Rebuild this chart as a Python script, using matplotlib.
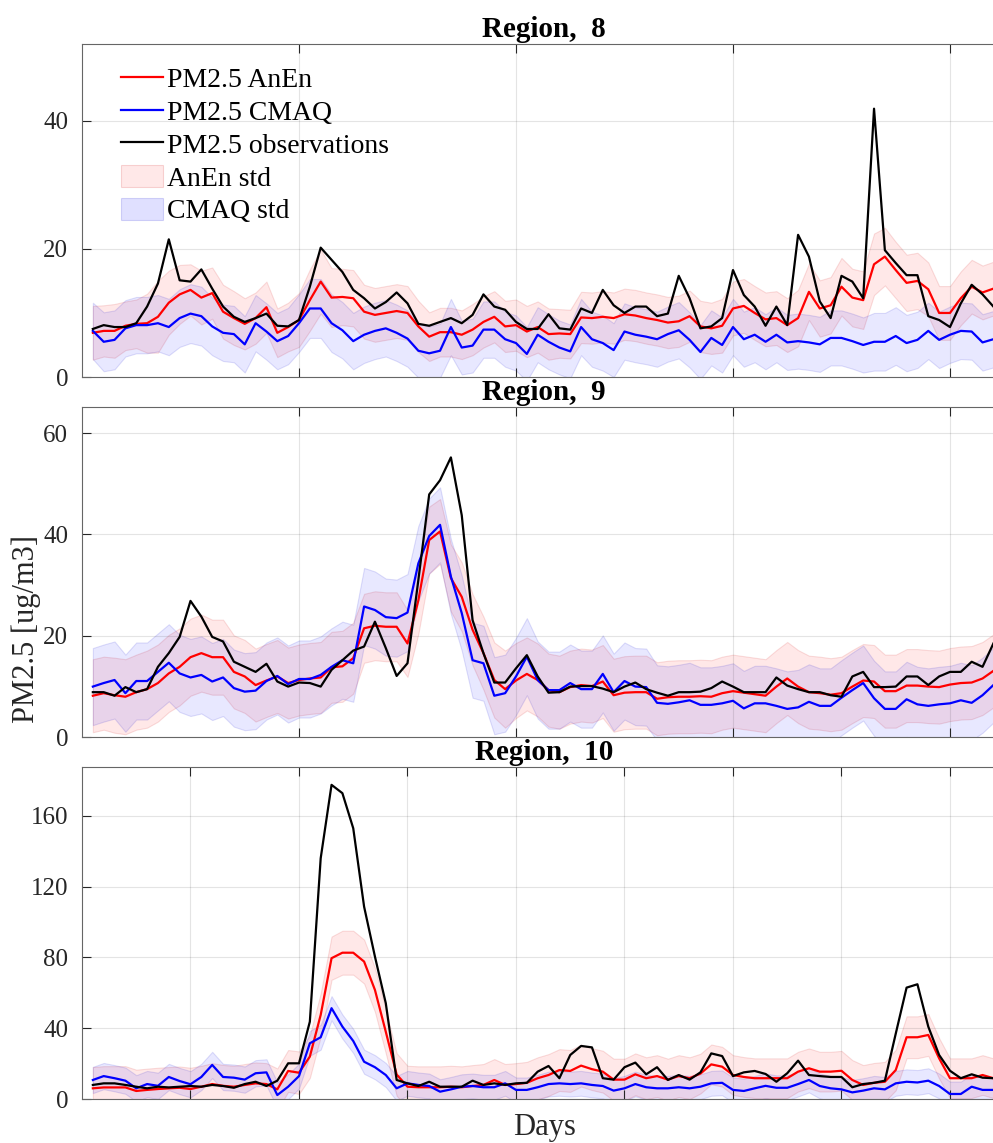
import numpy as np
import matplotlib
matplotlib.use('Agg')
import matplotlib.pyplot as plt
from matplotlib.patches import Patch
from matplotlib.lines import Line2D

plt.rcParams['font.family'] = ['Liberation Serif', 'DejaVu Serif']

# ---- Region 8 ----
obs8 = [7.5, 8.1, 7.8, 7.8, 8.4, 11.0, 14.6, 21.5, 15.1, 14.9,
        16.8, 13.8, 11.0, 9.4, 8.6, 9.2, 9.9, 8.0, 7.9, 8.9,
        14.1, 20.2, 18.3, 16.4, 13.6, 12.3, 10.7, 11.7, 13.2, 11.5,
        8.3, 8.0, 8.6, 9.2, 8.4, 9.7, 12.9, 11.0, 10.5, 8.6,
        7.5, 7.5, 9.8, 7.6, 7.4, 10.7, 10.0, 13.6, 11.2, 10.0,
        11.0, 11.0, 9.5, 9.9, 15.8, 12.3, 7.6, 7.9, 9.2, 16.7,
        12.8, 11.0, 8.0, 11.0, 8.1, 22.2, 18.8, 11.8, 9.2, 15.8,
        14.9, 12.3, 41.9, 19.8, 17.8, 15.9, 15.9, 9.5, 8.9, 7.8,
        11.5, 14.4, 12.9, 11.0]
anen8 = [6.9, 7.2, 7.2, 8.0, 8.3, 8.4, 9.4, 11.6, 12.9, 13.6,
         12.4, 13.1, 10.2, 9.2, 8.3, 9.2, 10.9, 6.9, 7.8, 8.9,
         12.0, 14.9, 12.4, 12.5, 12.3, 10.2, 9.7, 10.0, 10.3, 10.0,
         7.9, 6.3, 7.0, 7.0, 6.6, 7.4, 8.6, 9.4, 7.9, 8.1,
         7.1, 7.8, 6.7, 6.8, 6.7, 9.3, 9.2, 9.4, 9.2, 9.8,
         9.6, 9.2, 8.9, 8.5, 8.7, 9.5, 7.9, 7.6, 8.0, 10.7,
         11.1, 10.0, 9.0, 9.2, 8.1, 9.2, 13.3, 10.7, 11.2, 14.1,
         12.4, 12.0, 17.6, 18.8, 16.7, 14.7, 15.0, 13.7, 10.0, 10.0,
         12.3, 14.1, 13.2, 13.8]
cmaq8 = [7.2, 5.5, 5.8, 7.6, 8.1, 8.1, 8.4, 7.8, 9.2, 9.9,
         9.5, 7.9, 6.9, 6.7, 5.1, 8.4, 7.1, 5.6, 6.4, 8.4,
         10.7, 10.7, 8.4, 7.3, 5.6, 6.6, 7.2, 7.6, 6.9, 6.0,
         4.1, 3.7, 4.1, 7.8, 4.6, 4.9, 7.4, 7.4, 5.9, 5.3,
         3.6, 6.6, 5.5, 4.6, 4.0, 7.8, 5.9, 5.3, 4.2, 7.1,
         6.6, 6.3, 5.9, 6.7, 7.3, 5.8, 3.9, 6.1, 5.0, 7.8,
         5.9, 6.6, 5.5, 6.6, 5.4, 5.6, 5.4, 5.1, 6.1, 6.1,
         5.6, 5.0, 5.5, 5.5, 6.4, 5.3, 5.8, 7.2, 5.8, 6.6,
         7.2, 7.1, 5.4, 5.9]
anen8_std = [4.2, 4.0, 4.2, 3.8, 3.8, 4.6, 5.6, 5.0, 4.6, 4.0,
             4.2, 4.0, 4.2, 4.2, 4.0, 4.0, 4.0, 3.8, 3.8, 4.2,
             4.8, 5.0, 4.6, 4.4, 4.4, 4.2, 4.2, 4.2, 4.2, 4.2,
             4.0, 3.8, 3.8, 3.8, 3.8, 4.0, 4.0, 4.0, 4.0, 4.0,
             4.0, 4.0, 4.0, 3.8, 3.8, 4.0, 4.0, 4.0, 4.0, 4.0,
             4.0, 4.0, 4.0, 4.0, 4.0, 4.0, 4.0, 4.0, 4.2, 4.2,
             4.2, 4.2, 4.2, 4.2, 4.2, 4.4, 4.4, 4.4, 4.4, 4.5,
             4.5, 4.5, 4.8, 4.5, 4.4, 4.4, 4.4, 4.2, 4.2, 4.2,
             4.2, 4.2, 4.2, 4.2]
cmaq8_std = [4.4, 4.6, 4.6, 4.4, 4.4, 4.4, 4.4, 4.4, 4.5, 4.6,
             4.6, 4.5, 4.4, 4.4, 4.4, 4.4, 4.4, 4.4, 4.4, 4.5,
             4.6, 4.6, 4.5, 4.4, 4.4, 4.4, 4.4, 4.4, 4.4, 4.4,
             4.2, 4.2, 4.2, 4.4, 4.2, 4.2, 4.4, 4.4, 4.3, 4.3,
             4.2, 4.3, 4.3, 4.2, 4.2, 4.4, 4.3, 4.3, 4.2, 4.4,
             4.3, 4.3, 4.3, 4.3, 4.4, 4.3, 4.2, 4.3, 4.3, 4.4,
             4.3, 4.3, 4.3, 4.3, 4.3, 4.3, 4.3, 4.3, 4.3, 4.3,
             4.3, 4.3, 4.5, 4.5, 4.5, 4.4, 4.4, 4.4, 4.4, 4.4,
             4.4, 4.4, 4.4, 4.4]

# ---- Region 9 ----
obs9 = [8.9, 8.9, 8.2, 9.9, 8.9, 9.5, 13.9, 16.6, 19.8, 26.9,
        23.8, 19.8, 18.9, 14.9, 13.9, 12.9, 14.5, 11.0, 10.0, 10.8,
        10.7, 10.0, 13.3, 15.2, 17.1, 17.9, 22.8, 17.6, 12.1, 14.6,
        31.0, 47.9, 50.7, 55.2, 43.8, 23.1, 16.6, 10.8, 10.8, 13.6,
        16.2, 12.0, 8.8, 8.9, 10.0, 10.1, 10.1, 9.6, 8.9, 10.0,
        10.8, 9.5, 8.8, 8.2, 8.9, 8.9, 9.0, 9.7, 11.0, 10.0,
        8.9, 8.9, 8.9, 11.8, 10.2, 9.5, 8.9, 8.9, 8.3, 8.0,
        12.0, 12.9, 9.9, 9.9, 10.0, 12.0, 12.0, 10.3, 12.0, 12.9,
        12.9, 14.9, 13.9, 18.5]
anen9 = [8.2, 8.7, 8.3, 8.0, 8.9, 9.5, 10.7, 12.6, 13.9, 15.8,
         16.6, 15.8, 15.8, 12.9, 12.0, 10.3, 11.2, 12.0, 10.7, 11.3,
         11.6, 11.8, 13.8, 14.0, 15.6, 21.5, 22.0, 21.8, 21.8, 18.5,
         27.0, 38.9, 40.6, 31.4, 27.7, 21.2, 16.6, 11.3, 9.5, 11.2,
         12.5, 11.3, 9.3, 8.9, 9.9, 10.3, 10.1, 11.0, 8.3, 8.8,
         8.9, 8.9, 7.6, 7.9, 8.0, 8.0, 8.1, 8.0, 8.7, 9.1,
         8.8, 8.5, 8.2, 10.0, 11.6, 10.0, 8.9, 8.7, 8.4, 8.7,
         10.0, 11.2, 11.0, 9.1, 9.1, 10.2, 10.2, 10.0, 9.9, 10.4,
         10.7, 10.8, 11.6, 13.1]
cmaq9 = [10.0, 10.7, 11.3, 8.7, 11.1, 11.1, 12.9, 14.7, 12.6, 11.8,
         12.3, 11.0, 11.8, 9.7, 9.0, 9.2, 11.1, 12.1, 10.5, 11.5,
         11.5, 12.3, 13.9, 15.2, 14.6, 25.8, 25.1, 23.7, 23.5, 24.6,
         34.3, 39.7, 41.9, 31.7, 24.5, 15.2, 14.6, 8.2, 8.7, 12.0,
         15.9, 11.3, 9.3, 9.3, 10.7, 9.5, 9.5, 12.5, 8.9, 11.1,
         10.0, 9.9, 6.8, 6.6, 6.9, 7.3, 6.4, 6.4, 6.7, 7.2,
         5.7, 6.7, 6.7, 6.2, 5.6, 5.9, 7.0, 6.2, 6.2, 7.8,
         9.3, 10.7, 7.7, 5.6, 5.6, 7.5, 6.5, 6.2, 6.5, 6.7,
         7.3, 6.8, 8.3, 10.3]
anen9_std = [7.2, 7.2, 7.4, 7.4, 7.4, 7.6, 7.6, 7.6, 7.6, 7.6,
             7.6, 7.4, 7.4, 7.2, 7.2, 7.2, 7.2, 7.2, 7.0, 7.0,
             7.0, 7.0, 7.0, 7.0, 7.0, 6.8, 6.8, 6.8, 6.8, 6.6,
             6.6, 6.6, 6.4, 6.6, 6.8, 7.0, 7.2, 7.4, 7.6, 7.4,
             7.2, 7.2, 7.2, 7.2, 7.2, 7.2, 7.2, 7.2, 7.2, 7.2,
             7.2, 7.2, 7.2, 7.2, 7.2, 7.2, 7.2, 7.2, 7.2, 7.2,
             7.2, 7.2, 7.2, 7.2, 7.2, 7.2, 7.2, 7.2, 7.2, 7.2,
             7.2, 7.2, 7.2, 7.2, 7.2, 7.2, 7.2, 7.2, 7.2, 7.2,
             7.2, 7.2, 7.2, 7.2]
cmaq9_std = [7.6, 7.6, 7.6, 7.6, 7.6, 7.6, 7.6, 7.6, 7.6, 7.6,
             7.6, 7.6, 7.6, 7.6, 7.6, 7.6, 7.6, 7.6, 7.6, 7.6,
             7.6, 7.6, 7.6, 7.6, 7.6, 7.6, 7.6, 7.6, 7.6, 7.6,
             7.4, 7.4, 7.4, 7.4, 7.4, 7.4, 7.4, 7.6, 7.6, 7.6,
             7.6, 7.6, 7.6, 7.6, 7.6, 7.6, 7.6, 7.6, 7.6, 7.6,
             7.6, 7.6, 7.4, 7.4, 7.4, 7.4, 7.4, 7.4, 7.4, 7.4,
             7.4, 7.4, 7.4, 7.4, 7.4, 7.4, 7.4, 7.4, 7.4, 7.4,
             7.4, 7.4, 7.4, 7.4, 7.4, 7.4, 7.4, 7.4, 7.4, 7.4,
             7.4, 7.4, 7.4, 7.4]

# ---- Region 10 ----
obs10 = [8.1, 9.0, 9.0, 8.1, 7.1, 6.2, 7.1, 6.7, 7.1, 7.5,
         7.1, 8.1, 7.5, 6.5, 8.6, 9.9, 7.5, 10.5, 20.3, 20.3,
         43.8, 136.0, 177.4, 172.7, 152.9, 108.7, 80.5, 54.2, 10.9, 9.0,
         7.5, 9.9, 7.1, 7.1, 7.1, 10.5, 8.1, 9.0, 8.1, 9.0,
         9.3, 15.6, 18.8, 11.9, 25.0, 30.1, 29.3, 11.9, 11.1, 18.1,
         20.7, 14.1, 18.1, 10.9, 13.7, 11.1, 15.2, 25.9, 24.4, 13.1,
         15.2, 16.0, 14.3, 9.9, 14.7, 21.8, 13.7, 13.1, 12.6, 12.6,
         6.8, 8.6, 9.3, 10.5, 37.0, 63.0, 64.9, 41.0, 25.0, 16.1,
         11.9, 14.1, 12.2, 11.9]
anen10 = [6.2, 6.7, 6.7, 6.7, 4.7, 5.3, 5.8, 6.2, 6.5, 5.8,
          7.1, 8.6, 7.6, 7.1, 8.1, 9.0, 8.6, 5.6, 16.0, 15.0,
          24.1, 47.6, 79.6, 82.7, 82.7, 77.7, 61.7, 38.1, 14.0, 7.1,
          6.8, 6.8, 6.8, 7.1, 6.8, 7.5, 8.1, 10.9, 8.1, 8.6,
          9.3, 11.9, 13.7, 16.5, 16.0, 19.0, 17.0, 15.6, 11.1, 11.1,
          14.1, 11.9, 13.1, 11.1, 13.1, 11.9, 14.5, 19.7, 18.4, 13.7,
          12.6, 11.9, 11.9, 11.9, 11.9, 15.6, 17.5, 15.6, 15.6, 16.1,
          10.9, 8.1, 9.3, 9.9, 16.5, 35.0, 35.0, 36.3, 23.1, 11.9,
          11.9, 11.9, 13.7, 11.9]
cmaq10 = [10.9, 13.1, 11.9, 10.5, 6.2, 8.6, 7.6, 12.6, 10.3, 8.5,
          12.6, 19.4, 12.6, 12.2, 11.1, 14.7, 15.2, 2.4, 7.1, 13.1,
          31.6, 35.0, 51.4, 41.0, 32.9, 21.2, 18.1, 13.7, 6.2, 9.0,
          8.1, 7.5, 4.3, 5.6, 7.1, 7.5, 6.8, 6.8, 9.0, 5.3,
          5.3, 6.8, 8.6, 9.0, 8.6, 9.0, 8.1, 7.5, 4.9, 6.2,
          8.6, 6.8, 6.2, 6.2, 6.8, 6.2, 7.1, 9.0, 9.3, 5.3,
          4.7, 6.2, 7.6, 6.5, 6.5, 8.6, 10.9, 7.5, 6.2, 5.6,
          3.9, 4.9, 6.2, 5.6, 9.0, 9.9, 9.5, 10.5, 7.5, 3.0,
          3.0, 7.1, 5.3, 5.3]
anen10_std = [12.0, 12.0, 12.0, 12.0, 12.0, 12.0, 12.0, 12.0, 12.0, 12.0,
              11.8, 11.8, 11.8, 11.8, 11.8, 11.8, 11.8, 11.8, 11.8, 12.0,
              12.0, 12.2, 12.2, 12.4, 12.4, 12.4, 12.4, 12.2, 12.0, 11.8,
              11.8, 11.8, 11.8, 11.8, 11.8, 11.8, 11.8, 11.8, 11.8, 11.8,
              11.8, 11.8, 11.8, 11.8, 11.8, 11.8, 11.8, 11.8, 11.8, 11.8,
              11.8, 11.8, 11.8, 11.8, 11.8, 11.8, 11.2, 11.2, 11.2, 11.2,
              11.2, 11.2, 11.2, 11.2, 11.2, 11.2, 11.2, 11.2, 11.2, 11.2,
              11.2, 11.2, 11.2, 11.2, 11.4, 11.8, 11.8, 11.8, 11.4, 11.2,
              11.2, 11.2, 11.2, 11.2]
cmaq10_std = [7.4, 7.4, 7.4, 7.4, 7.4, 7.4, 7.4, 7.4, 7.4, 7.4,
              7.4, 7.4, 7.4, 7.4, 7.4, 7.4, 7.4, 7.2, 7.0, 7.0,
              7.0, 7.0, 6.8, 6.8, 6.8, 6.8, 6.8, 6.8, 7.0, 7.0,
              7.0, 7.0, 7.0, 7.0, 7.0, 7.0, 7.0, 7.0, 7.0, 7.0,
              7.0, 7.0, 7.0, 7.0, 7.0, 7.0, 7.0, 7.0, 7.0, 7.0,
              7.0, 7.0, 7.0, 7.0, 7.0, 7.0, 7.0, 7.0, 7.0, 7.0,
              7.0, 7.0, 7.0, 7.0, 7.0, 7.0, 7.0, 7.0, 7.0, 7.0,
              7.0, 7.0, 7.0, 7.0, 7.0, 7.0, 7.0, 7.0, 7.0, 7.0,
              7.0, 7.0, 7.0, 7.0]

region_names = ['Region,  8', 'Region,  9', 'Region,  10']
yticks_list = [[0, 20, 40], [0, 20, 40, 60], [0, 40, 80, 120, 160]]
ylims = [(0, 52), (0, 65.2), (0, 187.3)]
xgrid_list = [[20, 40, 60, 80], [20, 40, 60, 80],
              [10, 20, 30, 40, 50, 60, 70, 80]]

W, H = 993, 1143
fig = plt.figure(figsize=(W / 100, H / 100), dpi=100)

# axes boxes in pixels: (top, bottom); right edge lies past the cropped figure
boxes = [(44, 377), (406.7, 737.3), (767.3, 1099.3)]
left_px, right_px = 82, 1006.4

data = [(obs8, anen8, cmaq8, anen8_std, cmaq8_std),
        (obs9, anen9, cmaq9, anen9_std, cmaq9_std),
        (obs10, anen10, cmaq10, anen10_std, cmaq10_std)]

lw = 1.6
axes = []
for i, (top, bot) in enumerate(boxes):
    ax = fig.add_axes([left_px / W, 1 - bot / H, (right_px - left_px) / W, (bot - top) / H])
    obs, anen, cmaq, s_an, s_cm = [np.array(v) for v in data[i]]
    days = np.arange(1, len(obs) + 1)

    ax.fill_between(days, anen - s_an, anen + s_an, facecolor=(1, 0, 0, 0.09),
                    edgecolor=(0.8, 0, 0, 0.12), linewidth=0.8)
    ax.fill_between(days, cmaq - s_cm, cmaq + s_cm, facecolor=(0, 0, 1, 0.09),
                    edgecolor=(0, 0, 0.8, 0.12), linewidth=0.8)
    ax.plot(days, anen, color='red', linewidth=lw)
    ax.plot(days, cmaq, color='blue', linewidth=lw)
    ax.plot(days, obs, color='black', linewidth=lw)

    ax.set_xlim(0, 85.2)
    ax.set_ylim(*ylims[i])
    ax.set_yticks(yticks_list[i])
    ax.set_xticks(xgrid_list[i])
    ax.grid(True, color='0.15', alpha=0.12, linewidth=0.8)
    ax.tick_params(direction='in', length=6.5, width=0.8, top=True, right=False,
                   labelbottom=False, colors='0.15', labelsize=18, pad=10)
    for sp in ax.spines.values():
        sp.set_color('0.4')
        sp.set_linewidth(0.8)
    ax.set_title(region_names[i], fontsize=21, fontweight='bold', pad=5)
    axes.append(ax)

axes[1].set_ylabel('PM2.5 [ug/m3]', fontsize=22, color='0.15')
axes[1].yaxis.set_label_coords(-(82 - 41) / (right_px - left_px), (737.3 - 629) / (737.3 - 406.7))
axes[2].set_xlabel('Days', fontsize=22, color='0.15', labelpad=10)

handles = [Line2D([], [], color='red', linewidth=lw),
           Line2D([], [], color='blue', linewidth=lw),
           Line2D([], [], color='black', linewidth=lw),
           Patch(facecolor=(1, 0, 0, 0.09), edgecolor=(0.8, 0, 0, 0.15), linewidth=0.8),
           Patch(facecolor=(0, 0, 1, 0.12), edgecolor=(0, 0, 0.8, 0.15), linewidth=0.8)]
labels = ['PM2.5 AnEn', 'PM2.5 CMAQ', 'PM2.5 observations', 'AnEn std', 'CMAQ std']
axes[0].legend(handles, labels, loc='upper left', bbox_to_anchor=(0.03, 0.966),
               frameon=False, fontsize=20, handlelength=1.5, handletextpad=0.15,
               labelspacing=0.22, borderaxespad=0, handleheight=0.85)

fig.savefig('out.png', dpi=100)
